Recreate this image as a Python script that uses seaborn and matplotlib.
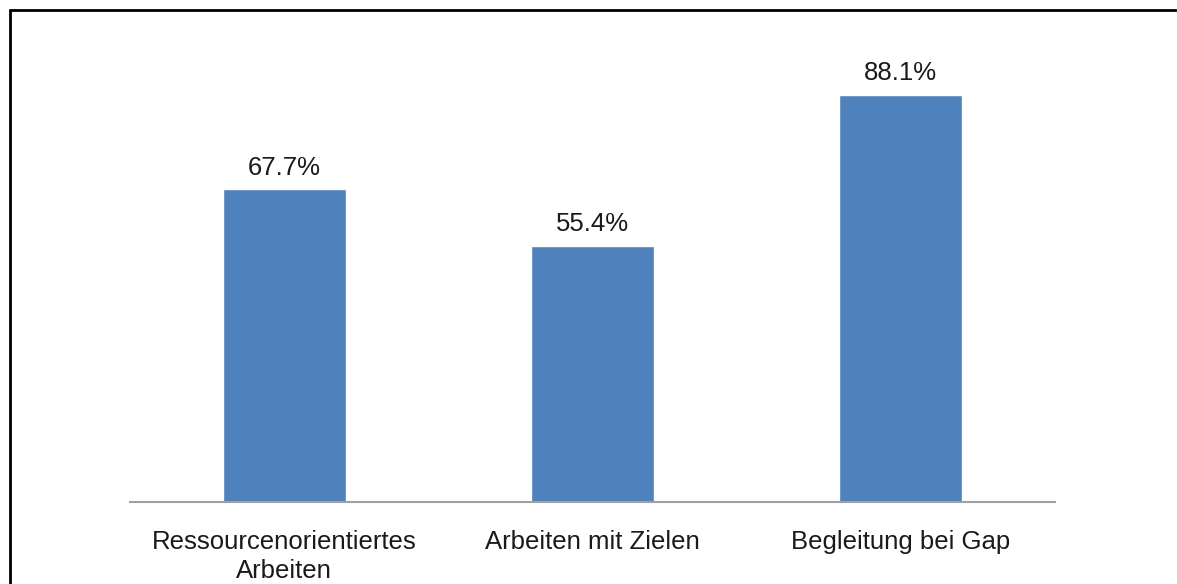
import numpy as np
import pandas as pd
import matplotlib.pyplot as plt
import seaborn as sns
from matplotlib.lines import Line2D

# DATA:
categories = ["Ressourcenorientiertes\nArbeiten", "Arbeiten mit Zielen", "Begleitung bei Gap"]
values = [67.7, 55.4, 88.1]

df = pd.DataFrame({"Kategorie": categories, "Anteil": values})

sns.set_style("white")
plt.rcParams["font.family"] = ["Liberation Sans", "DejaVu Sans"]

fig = plt.figure(figsize=(11.77, 5.84), dpi=100)
ax = fig.add_axes([0.1105, 0.1404, 0.7858, 0.7911])

sns.barplot(data=df, x="Kategorie", y="Anteil", color="#4F81BD", width=0.4,
            saturation=1, ax=ax)

ax.set_xlim(-0.5, 2.5)
ax.set_ylim(0, 100)
ax.set_xlabel("")
ax.set_ylabel("")
ax.set_yticks([])

for s in ["top", "right", "left"]:
    ax.spines[s].set_visible(False)
ax.spines["bottom"].set_color("#A0A0A0")
ax.spines["bottom"].set_linewidth(1.5)

ax.tick_params(axis="x", length=0, pad=20, labelsize=18.5, colors="#1a1a1a")
for lbl in ax.get_xticklabels():
    lbl.set_linespacing(1.25)

# VALUE LABELS:
for i, v in enumerate(values):
    ax.annotate(f"{v:.1f}%", xy=(i, v), xytext=(0, 7), textcoords="offset points",
                ha="center", va="bottom", fontsize=18.5, color="#1a1a1a")

# FRAME (top + left):
fig.add_artist(Line2D([9.5 / 1177, 1], [1 - 10 / 584, 1 - 10 / 584],
                      transform=fig.transFigure, color="black", lw=2))
fig.add_artist(Line2D([10 / 1177, 10 / 1177], [0, 1 - 9.5 / 584],
                      transform=fig.transFigure, color="black", lw=2))

fig.savefig("out.png", dpi=100)
